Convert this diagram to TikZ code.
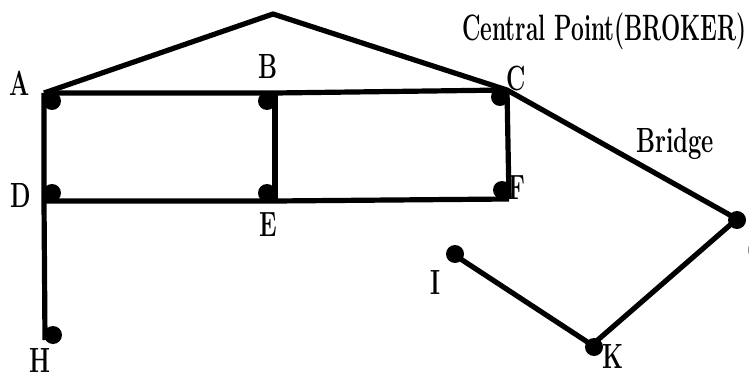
\documentclass[tikz,border=0pt]{standalone}
\usepackage{graphicx}
\newcommand{\condtxt}[1]{\scalebox{0.68}[1]{\bfseries #1}}
\newcommand{\condcp}[1]{\resizebox{284pt}{!}{\bfseries #1}}
\begin{document}
\begin{tikzpicture}[x=1pt,y=-1pt,
  edge/.style={line width=5.2pt,line join=miter,line cap=butt},
  dot/.style={circle,fill=black,inner sep=0pt,minimum size=18pt},
  lab/.style={inner sep=0pt,font=\fontsize{35}{35}\selectfont}]
\useasboundingbox (0,0) rectangle (749,377);
% corners
\coordinate (A) at (44,93);
\coordinate (Top) at (273,14);
\coordinate (B) at (275,93);
\coordinate (C) at (507,90);
\coordinate (D) at (44,201);
\coordinate (E) at (275,201);
\coordinate (F) at (509,199);
\coordinate (H) at (45,340);
\coordinate (G) at (737,219);
\coordinate (K) at (592,345);
\coordinate (I) at (453,254);
% edges
\draw[edge] (A) -- (Top) -- (C) -- (G);
\draw[edge] (A) -- (B) -- (C);
\draw[edge] (D) -- (E) -- (F);
\draw[edge] (A) -- (D) -- (H);
\draw[edge] (B) -- (E);
\draw[edge] (C) -- (F);
\draw[edge] (G) -- (K);
\draw[edge] (I) -- (K);
% dots
\node[dot] (dA) at (52,101) {};
\node[dot] (dB) at (267,101) {};
\node[dot] (dC) at (500,97) {};
\node[dot] (dD) at (52,193) {};
\node[dot] (dE) at (267,193) {};
\node[dot] (dF) at (502,190) {};
\node[dot] (dH) at (53,335) {};
\node[dot] (dG) at (737,220) {};
\node[dot] (dI) at (455,254) {};
\node[dot] (dK) at (594,347) {};
% labels
\node[lab] (lA) at (20,83) {\condtxt{A}};
\node[lab] (lB) at (268,66) {\condtxt{B}};
\node[lab] (lC) at (516,78) {\condtxt{C}};
\node[lab] (lD) at (21,195) {\condtxt{D}};
\node[lab] (lE) at (268,225) {\condtxt{E}};
\node[lab] (lF) at (517,188) {\condtxt{F}};
\node[lab] (lH) at (40,360) {\condtxt{H}};
\node[lab] (lI) at (435,282) {\condtxt{I}};
\node[lab] (lK) at (613,356) {\condtxt{K}};
\node[lab] (lG) at (758,250) {\condtxt{G}};
\node[lab,anchor=base west] (cp) at (462,41) {\condcp{\scalebox{0.62}[1]{Central Point(BROKER)}}};
\node[lab,anchor=base] (br) at (675,153) {\condtxt{Bridge}};
\end{tikzpicture}
\end{document}
